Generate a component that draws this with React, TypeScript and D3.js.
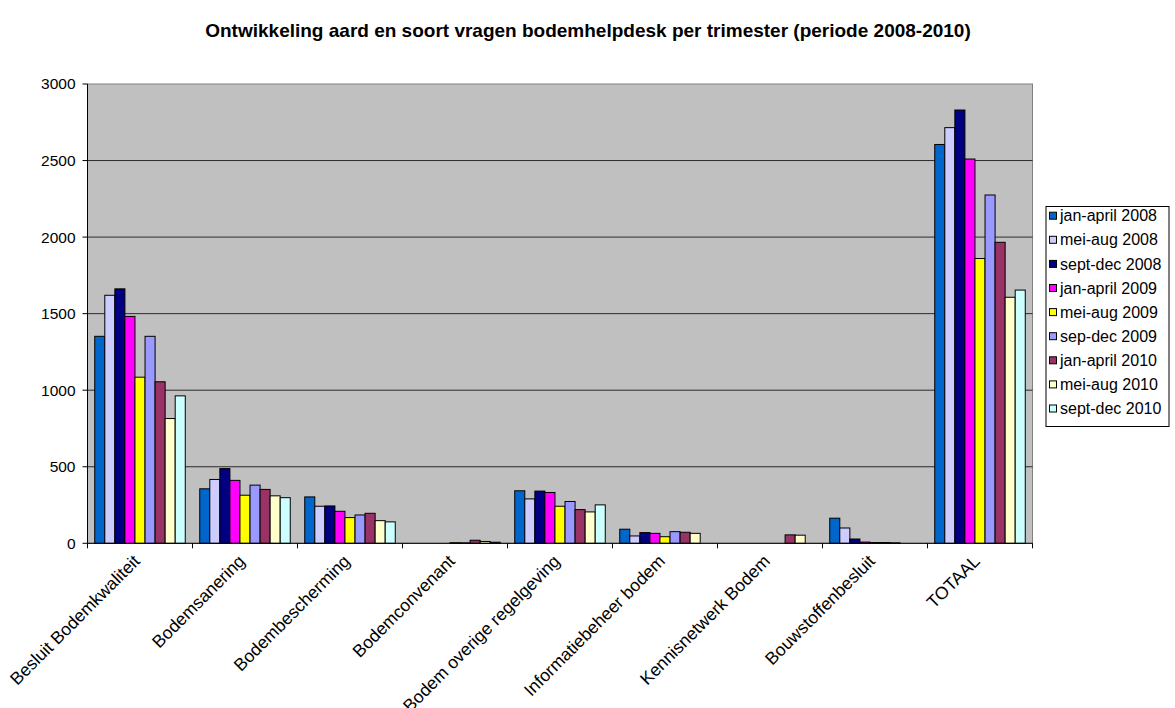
import React from "react";
import * as d3 from "d3";

const categories = [
  "Besluit Bodemkwaliteit",
  "Bodemsanering",
  "Bodembescherming",
  "Bodemconvenant",
  "Bodem overige regelgeving",
  "Informatiebeheer bodem",
  "Kennisnetwerk Bodem",
  "Bouwstoffenbesluit",
  "TOTAAL",
];

const seriesNames = [
  "jan-april 2008",
  "mei-aug 2008",
  "sept-dec 2008",
  "jan-april 2009",
  "mei-aug 2009",
  "sep-dec 2009",
  "jan-april 2010",
  "mei-aug 2010",
  "sept-dec 2010",
];

const seriesColors = [
  "#0066CC",
  "#CCCCFF",
  "#000080",
  "#FF00FF",
  "#FFFF00",
  "#9999FF",
  "#993366",
  "#FFFFCC",
  "#CCFFFF",
];

// values per category, one entry per series
const besluitBodemkwaliteit = [1352, 1620, 1662, 1482, 1085, 1352, 1055, 815, 963];
const bodemsanering = [356, 417, 488, 411, 314, 380, 352, 310, 298];
const bodembescherming = [303, 242, 244, 209, 168, 185, 196, 148, 140];
const bodemconvenant = [0, 0, 0, 0, 4, 3, 20, 12, 7];
const bodemOverigeRegelgeving = [343, 290, 341, 332, 242, 273, 220, 205, 251];
const informatiebeheerBodem = [92, 48, 70, 65, 43, 76, 72, 65, 0];
const kennisnetwerkBodem = [0, 0, 0, 0, 0, 0, 55, 53, 0];
const bouwstoffenbesluit = [164, 100, 28, 8, 5, 5, 3, 0, 0];
const totaal = [2605, 2715, 2830, 2510, 1860, 2275, 1966, 1607, 1654];

const values = [
  besluitBodemkwaliteit,
  bodemsanering,
  bodembescherming,
  bodemconvenant,
  bodemOverigeRegelgeving,
  informatiebeheerBodem,
  kennisnetwerkBodem,
  bouwstoffenbesluit,
  totaal,
];

const yTicks = [0, 500, 1000, 1500, 2000, 2500, 3000];

const W = 1175;
const H = 708;
const plot = { left: 87.5, right: 1032.5, top: 84, bottom: 543.3 };
const font = "'Liberation Sans', Arial, sans-serif";

export default function App() {
  const x = d3
    .scaleBand<string>()
    .domain(categories)
    .range([plot.left, plot.right])
    .padding(0);
  const xInner = d3
    .scaleBand<string>()
    .domain(seriesNames)
    .range([0, x.bandwidth()])
    .paddingInner(0)
    .paddingOuter(0.72);
  const y = d3.scaleLinear().domain([0, 3000]).range([plot.bottom, plot.top]);

  return (
    <svg
      width={W}
      height={H}
      style={{ position: "absolute", left: 0, top: 0, background: "#fff" }}
      fontFamily={font}
    >
      <rect x={0} y={0} width={W} height={H} fill="#fff" />
      <text
        x={588}
        y={37}
        textAnchor="middle"
        fontWeight="bold"
        fontSize={19}
        fill="#000"
      >
        Ontwikkeling aard en soort vragen bodemhelpdesk per trimester (periode 2008-2010)
      </text>

      {/* plot area */}
      <rect
        x={plot.left}
        y={plot.top}
        width={plot.right - plot.left}
        height={plot.bottom - plot.top}
        fill="#C0C0C0"
        stroke="#808080"
        strokeWidth={1}
      />

      {/* gridlines */}
      {yTicks
        .filter((t) => t > 0 && t < 3000)
        .map((t) => (
          <line
            key={"g" + t}
            x1={plot.left}
            x2={plot.right}
            y1={y(t)}
            y2={y(t)}
            stroke="#2a2a2a"
            strokeWidth={1}
          />
        ))}

      {/* bars */}
      {categories.map((c, ci) => (
        <g key={c} transform={`translate(${x(c)},0)`}>
          {seriesNames.map((s, si) => {
            const v = values[ci][si];
            if (v <= 0) return null;
            return (
              <rect
                key={s}
                x={xInner(s)}
                y={y(v)}
                width={xInner.bandwidth()}
                height={plot.bottom - y(v)}
                fill={seriesColors[si]}
                stroke="#000"
                strokeWidth={1}
              />
            );
          })}
        </g>
      ))}

      {/* y axis */}
      <line x1={plot.left} x2={plot.left} y1={plot.top} y2={plot.bottom} stroke="#000" />
      {yTicks.map((t) => (
        <g key={"y" + t}>
          <line x1={plot.left - 5} x2={plot.left} y1={y(t)} y2={y(t)} stroke="#000" />
          <text
            x={plot.left - 12}
            y={y(t)}
            dy="0.35em"
            textAnchor="end"
            fontSize={15.5}
            fill="#000"
          >
            {t}
          </text>
        </g>
      ))}

      {/* x axis */}
      <line x1={plot.left} x2={plot.right} y1={plot.bottom} y2={plot.bottom} stroke="#000" />
      {categories.map((c) => (
        <line
          key={"t" + c}
          x1={x(c)!}
          x2={x(c)!}
          y1={plot.bottom}
          y2={plot.bottom + 5}
          stroke="#000"
        />
      ))}
      <line x1={plot.right} x2={plot.right} y1={plot.bottom} y2={plot.bottom + 5} stroke="#000" />
      {categories.map((c) => {
        const cx = x(c)! + x.bandwidth() / 2;
        return (
          <text
            key={"l" + c}
            transform={`translate(${cx + 1},${plot.bottom + 19}) rotate(-45)`}
            textAnchor="end"
            fontSize={17.5}
            fill="#000"
          >
            {c}
          </text>
        );
      })}

      {/* legend */}
      <rect x={1046} y={206.5} width={123} height={220} fill="#fff" stroke="#000" />
      {seriesNames.map((s, i) => {
        const cy = 215.7 + i * 24.1;
        return (
          <g key={"lg" + s}>
            <rect
              x={1049.5}
              y={cy - 3.5}
              width={7}
              height={7}
              fill={seriesColors[i]}
              stroke="#000"
            />
            <text x={1060} y={cy} dy="0.35em" fontSize={16} fill="#000">
              {s}
            </text>
          </g>
        );
      })}
    </svg>
  );
}
